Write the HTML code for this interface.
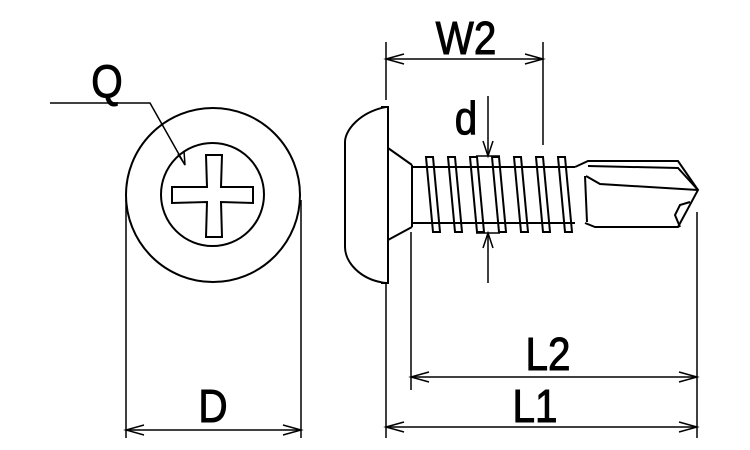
<!DOCTYPE html>
<html><head><style>html,body{margin:0;padding:0;background:#fff}svg{display:block}</style></head>
<body>
<svg width="750" height="450" viewBox="0 0 750 450" xmlns="http://www.w3.org/2000/svg" font-family="Liberation Sans, sans-serif">
<g fill="none" stroke="#000" stroke-width="1.5">
<circle cx="213" cy="195" r="87" stroke-width="2"/>
<circle cx="212.5" cy="194.5" r="51.5" stroke-width="2"/>
<path d="M206,155 L222,155 L221,187 L253,187 L253,203 L221,202 L222,237 L206,237 L207,202 L172,203 L172,187 L207,187 Z" stroke-width="2"/>
<path d="M50,103 L150,103 L185,165"/>
<path d="M178,154 L185,165 L184,151"/>
<line x1="126" y1="200" x2="126" y2="438"/>
<line x1="301" y1="200" x2="301" y2="438"/>
<line x1="126" y1="430" x2="301" y2="430"/>
<path d="M144,425 L126,430 L144,435 M283,425 L301,430 L283,435"/>
<g stroke-width="2">
<path d="M386,107 C360,112 345,130 345,142 L345,247 C345,262 360,280 386,283"/>
<path d="M381,107 L388,107 L388,283 L381,283"/>
<path d="M388,148 L412,165 M388,240 L412,227"/>
<line x1="412" y1="165" x2="412" y2="227"/>
<line x1="412" y1="167" x2="575" y2="167"/>
<line x1="412" y1="223" x2="575" y2="223"/>
<path d="M426,157 L433,157 L440,232 L433,232 Z M448,157 L455,157 L462,232 L455,232 Z M470,157 L477,157 L484,232 L477,232 Z M492,157 L499,157 L506,232 L499,232 Z M514,157 L521,157 L528,232 L521,232 Z M536,157 L543,157 L550,232 L543,232 Z M558,157 L565,157 L572,232 L565,232 Z"/>
<path d="M575,167 L588,161 L678,161 L698,190 L678,227 L595,227 L585,223"/>
<path d="M588,166 L678,168 L698,190"/>
<path d="M586,176 L600,184 L698,190"/>
<path d="M585,176 L587,222"/>
<path d="M690,202 L680,205 L675,215 L680,227"/>
</g>
<line x1="386" y1="42" x2="386" y2="100"/>
<line x1="543" y1="42" x2="543" y2="145"/>
<line x1="386" y1="59" x2="543" y2="59"/>
<path d="M404,54 L386,59 L404,64 M525,54 L543,59 L525,64"/>
<line x1="488" y1="96" x2="488" y2="156"/>
<path d="M483,141 L488,156 L493,141"/>
<line x1="488" y1="233" x2="488" y2="283"/>
<path d="M483,248 L488,233 L493,248"/>
<line x1="476" y1="156" x2="500" y2="156"/>
<line x1="476" y1="233" x2="500" y2="233"/>
<line x1="411" y1="232" x2="411" y2="390"/>
<line x1="697" y1="212" x2="697" y2="438"/>
<line x1="386" y1="283" x2="386" y2="438"/>
<line x1="411" y1="377" x2="697" y2="377"/>
<path d="M429,372 L411,377 L429,382 M679,372 L697,377 L679,382"/>
<line x1="386" y1="427" x2="697" y2="427"/>
<path d="M404,422 L386,427 L404,432 M679,422 L697,427 L679,432"/>
</g>
<g font-size="46" fill="#000" stroke="#000" stroke-width="1" text-anchor="middle">
<text x="107" y="97" transform="translate(107 0) scale(0.88 1) translate(-107 0)">Q</text>
<text x="213" y="422" transform="translate(213 0) scale(0.88 1) translate(-213 0)">D</text>
<text x="466" y="54" transform="translate(466 0) scale(0.88 1) translate(-466 0)">W2</text>
<text x="466" y="134" transform="translate(466 0) scale(0.88 1) translate(-466 0)">d</text>
<text x="548" y="370" transform="translate(548 0) scale(0.88 1) translate(-548 0)">L2</text>
<text x="535" y="422" transform="translate(535 0) scale(0.88 1) translate(-535 0)">L1</text>
</g>
</svg>
</body></html>
